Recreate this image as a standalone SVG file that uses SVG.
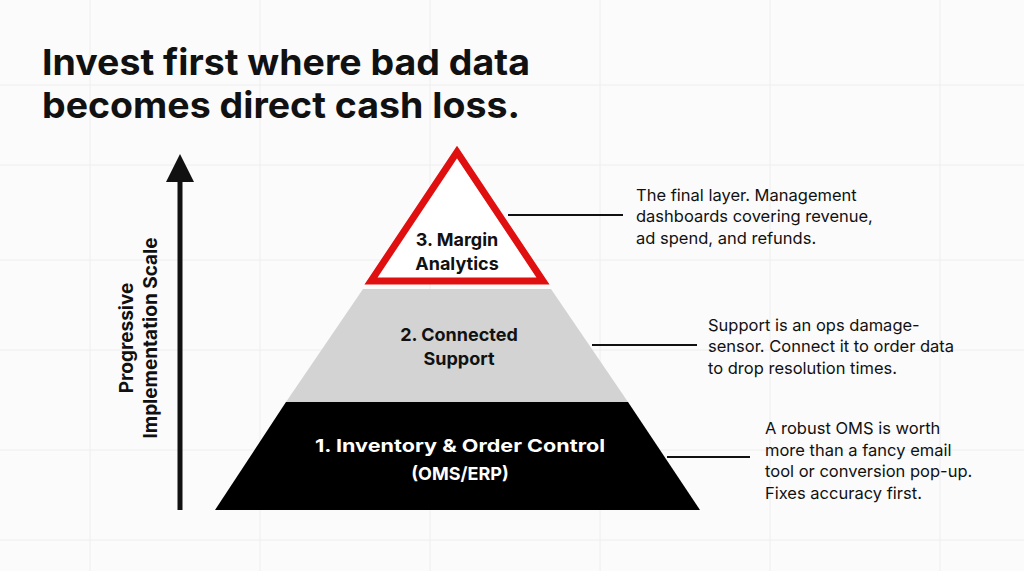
<svg xmlns="http://www.w3.org/2000/svg" width="1024" height="571" viewBox="0 0 1024 571">
<style>
.t{font-family:Inter,"Liberation Sans",sans-serif;font-weight:700;fill:#111}
.d{font-family:Inter,"Liberation Sans",sans-serif;font-size:16.5px;fill:#111}
.l{font-family:Inter,"Liberation Sans",sans-serif;font-weight:700;font-size:18px;text-anchor:middle}
.g{stroke:#eeeeee;stroke-width:1;fill:none}
.c{stroke:#111;stroke-width:2;fill:none}
</style>
<rect width="1024" height="571" fill="#fbfbfb"/>
<g class="g">
<path d="M0 85H1024M0 165H1024M0 260H1024M0 350H1024M0 450H1024M0 540H1024M90 0V571M260 0V571M430 0V571M600 0V571M770 0V571M940 0V571"/>
</g>
<text class="t" font-size="36" x="42" y="75" textLength="488" lengthAdjust="spacingAndGlyphs">Invest first where bad data</text>
<text class="t" font-size="36" x="42" y="118" textLength="478" lengthAdjust="spacingAndGlyphs">becomes direct cash loss.</text>
<g id="axis">
<line x1="180" y1="510" x2="180" y2="180" stroke="#111" stroke-width="5"/>
<polygon points="166,182 194,182 180,154" fill="#111"/>
<text class="t" font-size="19" text-anchor="middle" transform="translate(133,338) rotate(-90)">Progressive</text>
<text class="t" font-size="19" text-anchor="middle" transform="translate(157,338) rotate(-90)">Implementation Scale</text>
</g>
<g id="tier1">
<polygon points="286,402 628,402 700,510 215,510" fill="#000"/>
<text class="l" fill="#fff" font-size="22" font-weight="600" x="460" y="452" textLength="290" lengthAdjust="spacingAndGlyphs">1. Inventory &amp; Order Control</text>
<text class="l" fill="#fff" font-size="22" font-weight="600" x="460" y="480">(OMS/ERP)</text>
</g>
<g id="tier2">
<polygon points="363,289 551,289 628,402 286,402" fill="#d3d3d3"/>
<text class="l" fill="#111" x="459" y="341">2. Connected</text>
<text class="l" fill="#111" x="459" y="365">Support</text>
</g>
<g id="tier3">
<polygon points="457,152 543,281 371,281" fill="#fff" stroke="#e01010" stroke-width="7" stroke-linejoin="miter"/>
<text class="l" fill="#111" x="457" y="246">3. Margin</text>
<text class="l" fill="#111" x="457" y="270">Analytics</text>
</g>
<g id="connectors">
<line class="c" x1="508" y1="215" x2="623" y2="215"/>
<line class="c" x1="592" y1="345" x2="697" y2="345"/>
<line class="c" x1="667" y1="457" x2="750" y2="457"/>
</g>
<g id="note3">
<text class="d" x="636" y="201">The final layer. Management</text>
<text class="d" x="636" y="222">dashboards covering revenue,</text>
<text class="d" x="636" y="244">ad spend, and refunds.</text>
</g>
<g id="note2">
<text class="d" x="708" y="331">Support is an ops damage-</text>
<text class="d" x="708" y="352">sensor. Connect it to order data</text>
<text class="d" x="708" y="374">to drop resolution times.</text>
</g>
<g id="note1">
<text class="d" x="765" y="434">A robust OMS is worth</text>
<text class="d" x="765" y="456">more than a fancy email</text>
<text class="d" x="765" y="477">tool or conversion pop-up.</text>
<text class="d" x="765" y="499">Fixes accuracy first.</text>
</g>
</svg>
